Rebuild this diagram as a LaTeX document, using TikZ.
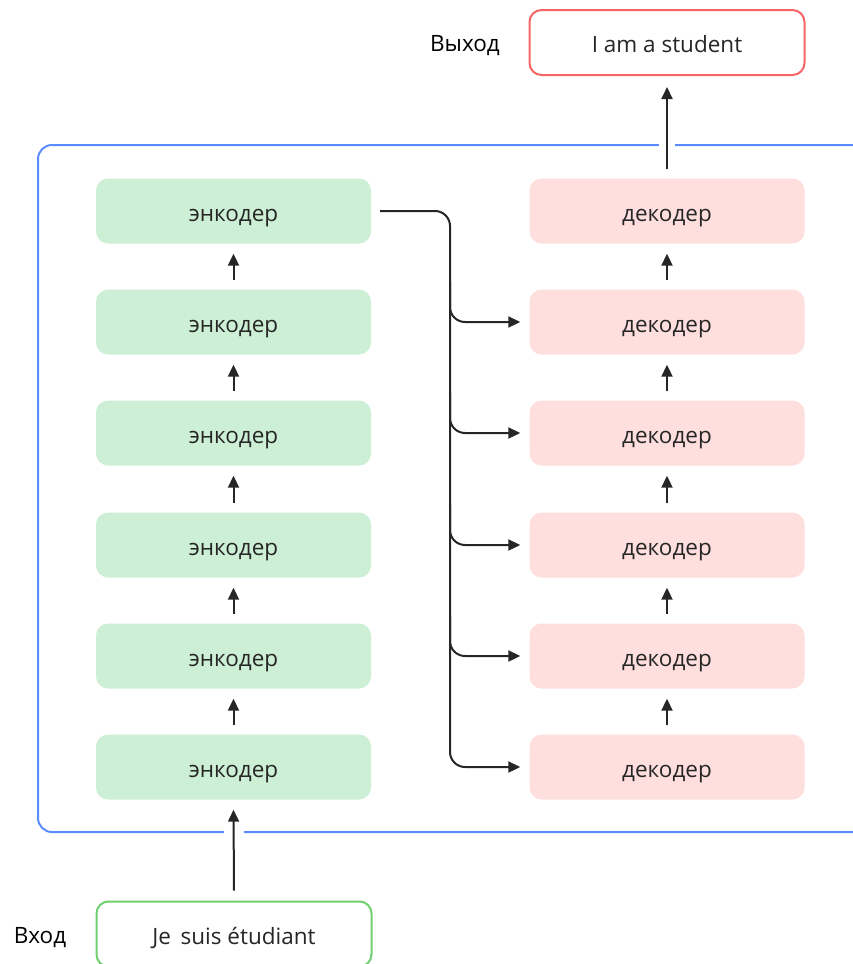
\documentclass[tikz,border=0pt]{standalone}
\usepackage{fontspec}
\setmainfont{Open Sans}
\usetikzlibrary{arrows.meta,calc}
\definecolor{encfill}{HTML}{CDEFD5}
\definecolor{decfill}{HTML}{FFDEDE}
\definecolor{frameblue}{HTML}{5B8CFF}
\definecolor{outred}{HTML}{F46666}
\definecolor{ingreen}{HTML}{70D070}
\definecolor{ink}{HTML}{262626}
\tikzset{
  block/.style={rounded corners=12pt, minimum width=275pt, minimum height=65pt, inner sep=0pt, text height=20pt, text depth=0pt, font=\fontsize{22.5}{26}\selectfont, text=ink},
  enc/.style={block, fill=encfill},
  dec/.style={block, fill=decfill},
  io/.style={block, line width=2pt, fill=white},
  arr/.style={draw=ink, line width=2pt, -{Triangle[length=12pt,width=11pt]}},
  lab/.style={font=\fontsize{22.5}{26}\selectfont, text=black, inner sep=0pt, text height=20pt, text depth=0pt}
}
\begin{document}
\begin{tikzpicture}[x=1pt,y=-1pt]
\useasboundingbox (0,0) rectangle (853,964);
% frame
\draw[frameblue, line width=2pt, rounded corners=14pt] (880,145) -- (38,145) -- (38,832) -- (880,832);
\fill[white] (224,826) rectangle (244,838);
\fill[white] (659,139) rectangle (675,151);
% encoders and decoders
\foreach \i/\y in {1/211,2/322,3/433,4/545,5/656,6/767}{
  \node[enc] (e\i) at (233.5,\y) {энкодер};
  \node[dec] (d\i) at (667,\y) {декодер};
}
\foreach \a/\b in {2/1,3/2,4/3,5/4,6/5}{
  \draw[arr] ([yshift=9pt]e\a.north) -- ([yshift=-10pt]e\b.south);
  \draw[arr] ([yshift=9pt]d\a.north) -- ([yshift=-10pt]d\b.south);
}
% output / input
\node[io, draw=outred] (out) at (667,42.5) {I am a student};
\node[io, draw=ingreen] (in) at (234,934) {Je\, suis étudiant};
\node[lab] (outlab) at (465,41) {Выход};
\node[lab] (inlab) at (40,933) {Вход};
\draw[arr] ([yshift=9pt]d1.north) -- ([yshift=-11pt]out.south);
\draw[arr] ([yshift=10pt]in.north) -- ([yshift=-10pt]e6.south);
% encoder -> decoders
\coordinate (bus) at (450,500);
\draw[arr, rounded corners=15pt] ([xshift=9pt]e1.east) -| (bus) |- ([xshift=-9pt]d6.west);
\foreach \i/\y in {2/322,3/433,4/545,5/656}{
  \draw[arr, rounded corners=15pt] (450,\y-40) |- ([xshift=-9pt]d\i.west);
}
\end{tikzpicture}
\end{document}
